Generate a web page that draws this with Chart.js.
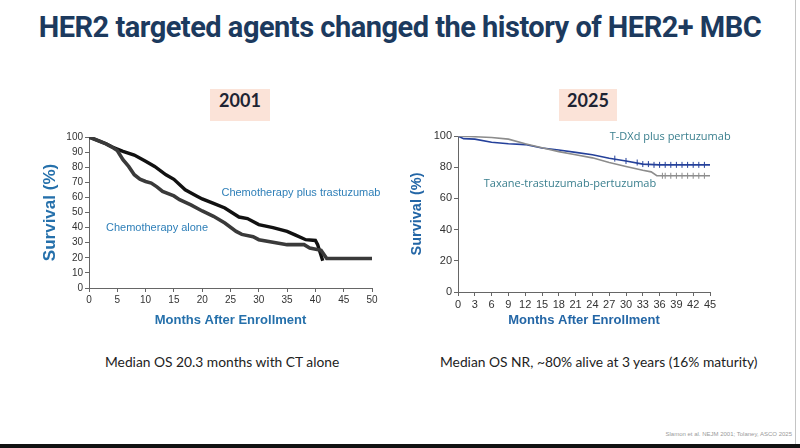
<!DOCTYPE html>
<html>
<head>
<meta charset="utf-8">
<script src="https://cdn.jsdelivr.net/npm/chart.js@4.4.1/dist/chart.umd.min.js"></script>
<style>
  html, body { margin: 0; padding: 0; }
  body { width: 800px; height: 448px; position: relative; background: #fff; overflow: hidden; }
  .title { position: absolute; left: 0; top: 10px; width: 800px; text-align: center;
           font: 700 29px Roboto, sans-serif; color: #1c3a5e; letter-spacing: -0.5px; }
  .year { position: absolute; top: 89px; height: 32px; line-height: 32px; text-align: center;
          background: #fbe3d8; font: 700 18px Lato, sans-serif; color: #1e2433; }
  .caption { position: absolute; top: 353px; font: 13.8px Lato, sans-serif; color: #222; white-space: nowrap; }
  .cite { position: absolute; right: 8px; top: 431px; font: 6px Arial, sans-serif; color: #9a9a9a; }
  .edge { position: absolute; left: 795px; top: 0; width: 1px; height: 444px; background: #c4c4c4; }
  .bar { position: absolute; left: 0; top: 444px; width: 800px; height: 4px; background: #111; }
  .chart { position: absolute; }
</style>
</head>
<body>
<div class="title">HER2 targeted agents changed the history of HER2+ MBC</div>
<div class="year" style="left:210px;width:60px;">2001</div>
<div class="year" style="left:559px;width:58px;">2025</div>

<div class="chart" style="left:40px;top:128px;width:345px;height:210px;"><canvas id="chart2001"></canvas></div>
<div class="chart" style="left:408px;top:125px;width:330px;height:213px;"><canvas id="chart2025"></canvas></div>

<div class="caption" style="left:105px;">Median OS 20.3 months with CT alone</div>
<div class="caption" style="left:440px;">Median OS NR, ~80% alive at 3 years (16% maturity)</div>
<div class="cite">Slamon et al. NEJM 2001; Tolaney, ASCO 2025</div>
<div class="edge"></div>
<div class="bar"></div>

<script>
// 2001 - Slamon et al.
const trastuzumabMonths = [0, 1, 2, 3, 4, 5, 6, 8, 10, 11.6, 13.6, 15, 17, 19, 20, 22, 24, 26.5, 28, 30, 32.5, 35, 36.5, 38.3, 40, 40.4, 41.3];
const trastuzumabSurvival = [100, 98.5, 97, 95.5, 93.5, 92, 90.5, 88, 84, 80.5, 75, 72, 65, 61, 59, 56, 53, 47, 46, 42, 40, 37.5, 35, 32, 31.5, 28.7, 18];
const aloneMonths = [0, 1, 2, 3, 4, 5, 6, 7, 8, 9, 10, 11, 12, 13, 15, 16, 18, 20, 22, 24, 26, 27, 29, 30, 33, 35, 38, 39, 41, 42, 50];
const aloneSurvival = [100, 98.5, 97, 95.5, 93.5, 91, 85, 80.5, 75, 72, 70.5, 69.5, 67, 64, 61, 58.5, 55, 51, 47.5, 43, 37.5, 35.5, 34, 32, 30, 28.7, 28.7, 26.5, 25, 19.5, 19.5];
const ticks2001X = { min: 0, max: 50, step: 5 };
const ticks2001Y = { min: 0, max: 100, step: 10 };

// 2025 - Tolaney, ASCO
const tdxdMonths = [0, 1, 3, 6, 9, 12, 15, 18, 21, 24, 27, 30, 33, 36, 45];
const tdxdSurvival = [100, 98.3, 98, 96, 95, 94.5, 92.3, 91, 89.5, 88, 85.7, 84, 82, 81.5, 81.5];
const thpMonths = [0, 3, 6, 9, 12, 15, 18, 21, 24, 27, 30, 33, 34.5, 35.5, 45];
const thpSurvival = [100, 99.5, 99, 98, 95, 92.5, 90, 88, 86, 83, 80.5, 78, 77, 74.5, 74.5];
const tdxdCensorMonths = [28, 30, 32, 33, 34, 35, 36, 37, 38, 39, 40, 41, 42, 43, 44];
const tdxdCensorSurvival = [85.5, 84, 83, 82, 82, 81.5, 81.5, 81.5, 81.5, 81.5, 81.5, 81.5, 81.5, 81.5, 81.5];
const thpCensorMonths = [36.5, 37, 38, 39, 40, 41, 42, 43, 44];
const thpCensorSurvival = [74.5, 74.5, 74.5, 74.5, 74.5, 74.5, 74.5, 74.5, 74.5];
const ticks2025X = { min: 0, max: 45, step: 3 };
const ticks2025Y = { min: 0, max: 100, step: 20 };

function toPoints(xs, ys) {
  return xs.map((x, i) => ({ x: x, y: ys[i] }));
}

// curve labels drawn in data coordinates
const curveLabels = {
  id: 'curveLabels',
  afterDatasetsDraw(chart, args, opts) {
    const ctx = chart.ctx;
    const { x, y } = chart.scales;
    ctx.save();
    ctx.font = opts.font;
    ctx.fillStyle = opts.color;
    ctx.textBaseline = 'middle';
    opts.items.forEach(it => {
      ctx.fillText(it.text, x.getPixelForValue(it.x), y.getPixelForValue(it.y));
    });
    ctx.restore();
  }
};

function axis(range, opts) {
  return {
    type: 'linear',
    min: range.min,
    max: range.max,
    ticks: { stepSize: range.step, font: { family: 'Arial', size: opts.tickSize }, color: '#333', padding: 2,
             autoSkip: false, maxRotation: 0, minRotation: 0 },
    grid: { drawOnChartArea: false, drawTicks: true, tickLength: 4, color: '#666' },
    border: { color: '#666', width: 1 },
    title: { display: true, text: opts.title, color: opts.titleColor,
             font: { family: 'Arial', size: opts.titleSize, weight: 'bold' }, padding: opts.titlePad },
    afterFit: opts.fit
  };
}

new Chart(document.getElementById('chart2001'), {
  type: 'line',
  data: {
    datasets: [
      { data: toPoints(aloneMonths, aloneSurvival), borderColor: '#3a3a3a', borderWidth: 3.6 },
      { data: toPoints(aloneMonths, aloneSurvival), borderColor: '#b5b5b5', borderWidth: 1.4, borderDash: [1.5, 2.5] },
      { data: toPoints(trastuzumabMonths, trastuzumabSurvival), borderColor: '#111', borderWidth: 3.4 }
    ]
  },
  options: {
    responsive: true,
    maintainAspectRatio: false,
    animation: false,
    parsing: false,
    elements: { point: { radius: 0 }, line: { tension: 0 } },
    layout: { padding: { top: 9, right: 13, left: 0, bottom: 0 } },
    plugins: {
      legend: { display: false },
      tooltip: { enabled: false },
      curveLabels: {
        font: '11px Arial', color: '#2e7fb8',
        items: [
          { text: 'Chemotherapy plus trastuzumab', x: 23.4, y: 63 },
          { text: 'Chemotherapy alone', x: 3, y: 40 }
        ]
      }
    },
    scales: {
      x: axis(ticks2001X, { tickSize: 10, title: 'Months After Enrollment', titleColor: '#2570ab', titleSize: 13,
                            titlePad: { top: 0, bottom: 10 }, fit: s => { s.height = 50; } }),
      y: axis(ticks2001Y, { tickSize: 10, title: 'Survival (%)', titleColor: '#2570ab', titleSize: 17,
                            titlePad: { top: 0, bottom: 0 }, fit: s => { s.width = 49; } })
    }
  },
  plugins: [curveLabels]
});

new Chart(document.getElementById('chart2025'), {
  type: 'line',
  data: {
    datasets: [
      { data: toPoints(thpMonths, thpSurvival), borderColor: '#8c8c8c', borderWidth: 1.6 },
      { data: toPoints(thpCensorMonths, thpCensorSurvival), showLine: false, borderColor: '#8c8c8c',
        pointStyle: 'line', rotation: 90, pointRadius: 3, borderWidth: 1 },
      { data: toPoints(tdxdMonths, tdxdSurvival), borderColor: '#24409a', borderWidth: 1.6 },
      { data: toPoints(tdxdCensorMonths, tdxdCensorSurvival), showLine: false, borderColor: '#24409a',
        pointStyle: 'line', rotation: 90, pointRadius: 3, borderWidth: 1 }
    ]
  },
  options: {
    responsive: true,
    maintainAspectRatio: false,
    animation: false,
    parsing: false,
    elements: { point: { radius: 0 }, line: { tension: 0 } },
    layout: { padding: { top: 11, right: 28, left: 0, bottom: 0 } },
    plugins: {
      legend: { display: false },
      tooltip: { enabled: false },
      curveLabels: {
        font: '11px "Open Sans"', color: '#3a7f8e',
        items: [
          { text: 'T-DXd plus pertuzumab', x: 27.1, y: 99.5 },
          { text: 'Taxane-trastuzumab-pertuzumab', x: 4.6, y: 69.6 }
        ]
      }
    },
    scales: {
      x: axis(ticks2025X, { tickSize: 11, title: 'Months After Enrollment', titleColor: '#2366a6', titleSize: 13,
                            titlePad: { top: 0, bottom: 10 }, fit: s => { s.height = 46; } }),
      y: axis(ticks2025Y, { tickSize: 11, title: 'Survival (%)', titleColor: '#2366a6', titleSize: 14.5,
                            titlePad: { top: 0, bottom: 0 }, fit: s => { s.width = 50; } })
    }
  },
  plugins: [curveLabels]
});
</script>
</body>
</html>
